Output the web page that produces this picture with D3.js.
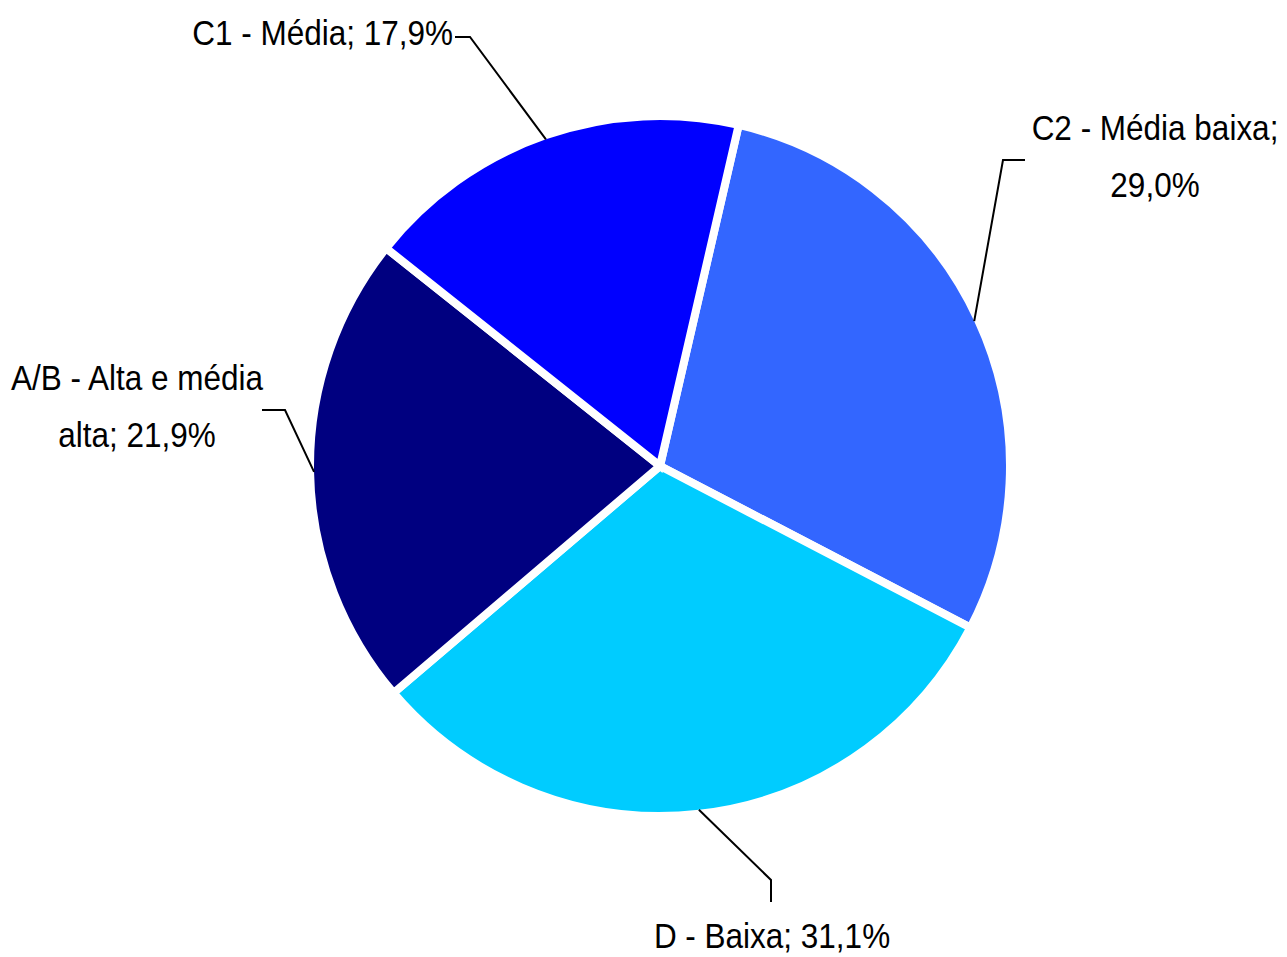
<!DOCTYPE html>
<html>
<head>
<meta charset="utf-8">
<script src="https://cdn.jsdelivr.net/npm/d3@7"></script>
<style>
  body { margin: 0; background: #fff; }
  text { font-family: "Liberation Sans", Arial, sans-serif; fill: #000; }
</style>
</head>
<body>
<div id="container"></div>
<script>
/* CONSTANTS AND GLOBALS */
const width = 1287,
  height = 957,
  cx = 660,
  cy = 466,
  radius = 346,
  gap = 8,
  narrow = 0.9; // horizontal squeeze to mimic a narrow face

// data, clockwise from the C2 slice
const categories = ["C2 - Média baixa", "D - Baixa", "A/B - Alta e média alta", "C1 - Média"];
const values = [29.0, 31.1, 21.9, 17.9];
const colors = ["#3366FF", "#00CCFF", "#000080", "#0000FF"];
const valueLabels = ["29,0%", "31,1%", "21,9%", "17,9%"];

// label layout: text lines, anchor, elbow of the leader line
const labelLayout = [
  { lines: ["C2 - Média baixa;", "29,0%"], x: 1155, y: 140, anchor: "middle", elbow: [1003, 160], end: [1025, 160] },
  { lines: ["D - Baixa; 31,1%"], x: 772, y: 948, anchor: "middle", elbow: [771, 880], end: [771, 902] },
  { lines: ["A/B - Alta e média", "alta; 21,9%"], x: 137, y: 390, anchor: "middle", elbow: [285, 410], end: [262, 410] },
  { lines: ["C1 - Média; 17,9%"], x: 453, y: 45, anchor: "end", elbow: [470, 37], end: [455, 37] }
];

const data = categories.map((c, i) => ({ name: c, value: values[i], color: colors[i], label: valueLabels[i] }));

const svg = d3.select("#container").append("svg")
  .attr("width", width)
  .attr("height", height);

const pie = d3.pie()
  .sort(null)
  .value(d => d.value)
  .startAngle(13 * Math.PI / 180)
  .endAngle(13 * Math.PI / 180 + 2 * Math.PI);

const arcs = pie(data);
const arcGen = d3.arc().innerRadius(0).outerRadius(radius + gap / 2);

const g = svg.append("g").attr("transform", `translate(${cx},${cy})`);

g.selectAll("path")
  .data(arcs)
  .join("path")
  .attr("d", arcGen)
  .attr("fill", d => d.data.color)
  .attr("stroke", "#fff")
  .attr("stroke-width", gap)
  .attr("stroke-linejoin", "miter");

// leader lines + labels
arcs.forEach((a, i) => {
  const mid = (a.startAngle + a.endAngle) / 2;
  const px = cx + radius * Math.sin(mid),
    py = cy - radius * Math.cos(mid);
  const L = labelLayout[i];
  svg.append("path")
    .attr("d", d3.line()([[px, py], L.elbow, L.end]))
    .attr("fill", "none")
    .attr("stroke", "#000")
    .attr("stroke-width", 2);

  const t = svg.append("g")
    .attr("transform", `translate(${L.x},${L.y}) scale(${narrow},1)`)
    .append("text")
    .attr("text-anchor", L.anchor)
    .attr("font-size", 35);
  L.lines.forEach((ln, j) => {
    t.append("tspan")
      .attr("x", 0)
      .attr("y", j * 57)
      .text(ln);
  });
});
</script>
</body>
</html>
